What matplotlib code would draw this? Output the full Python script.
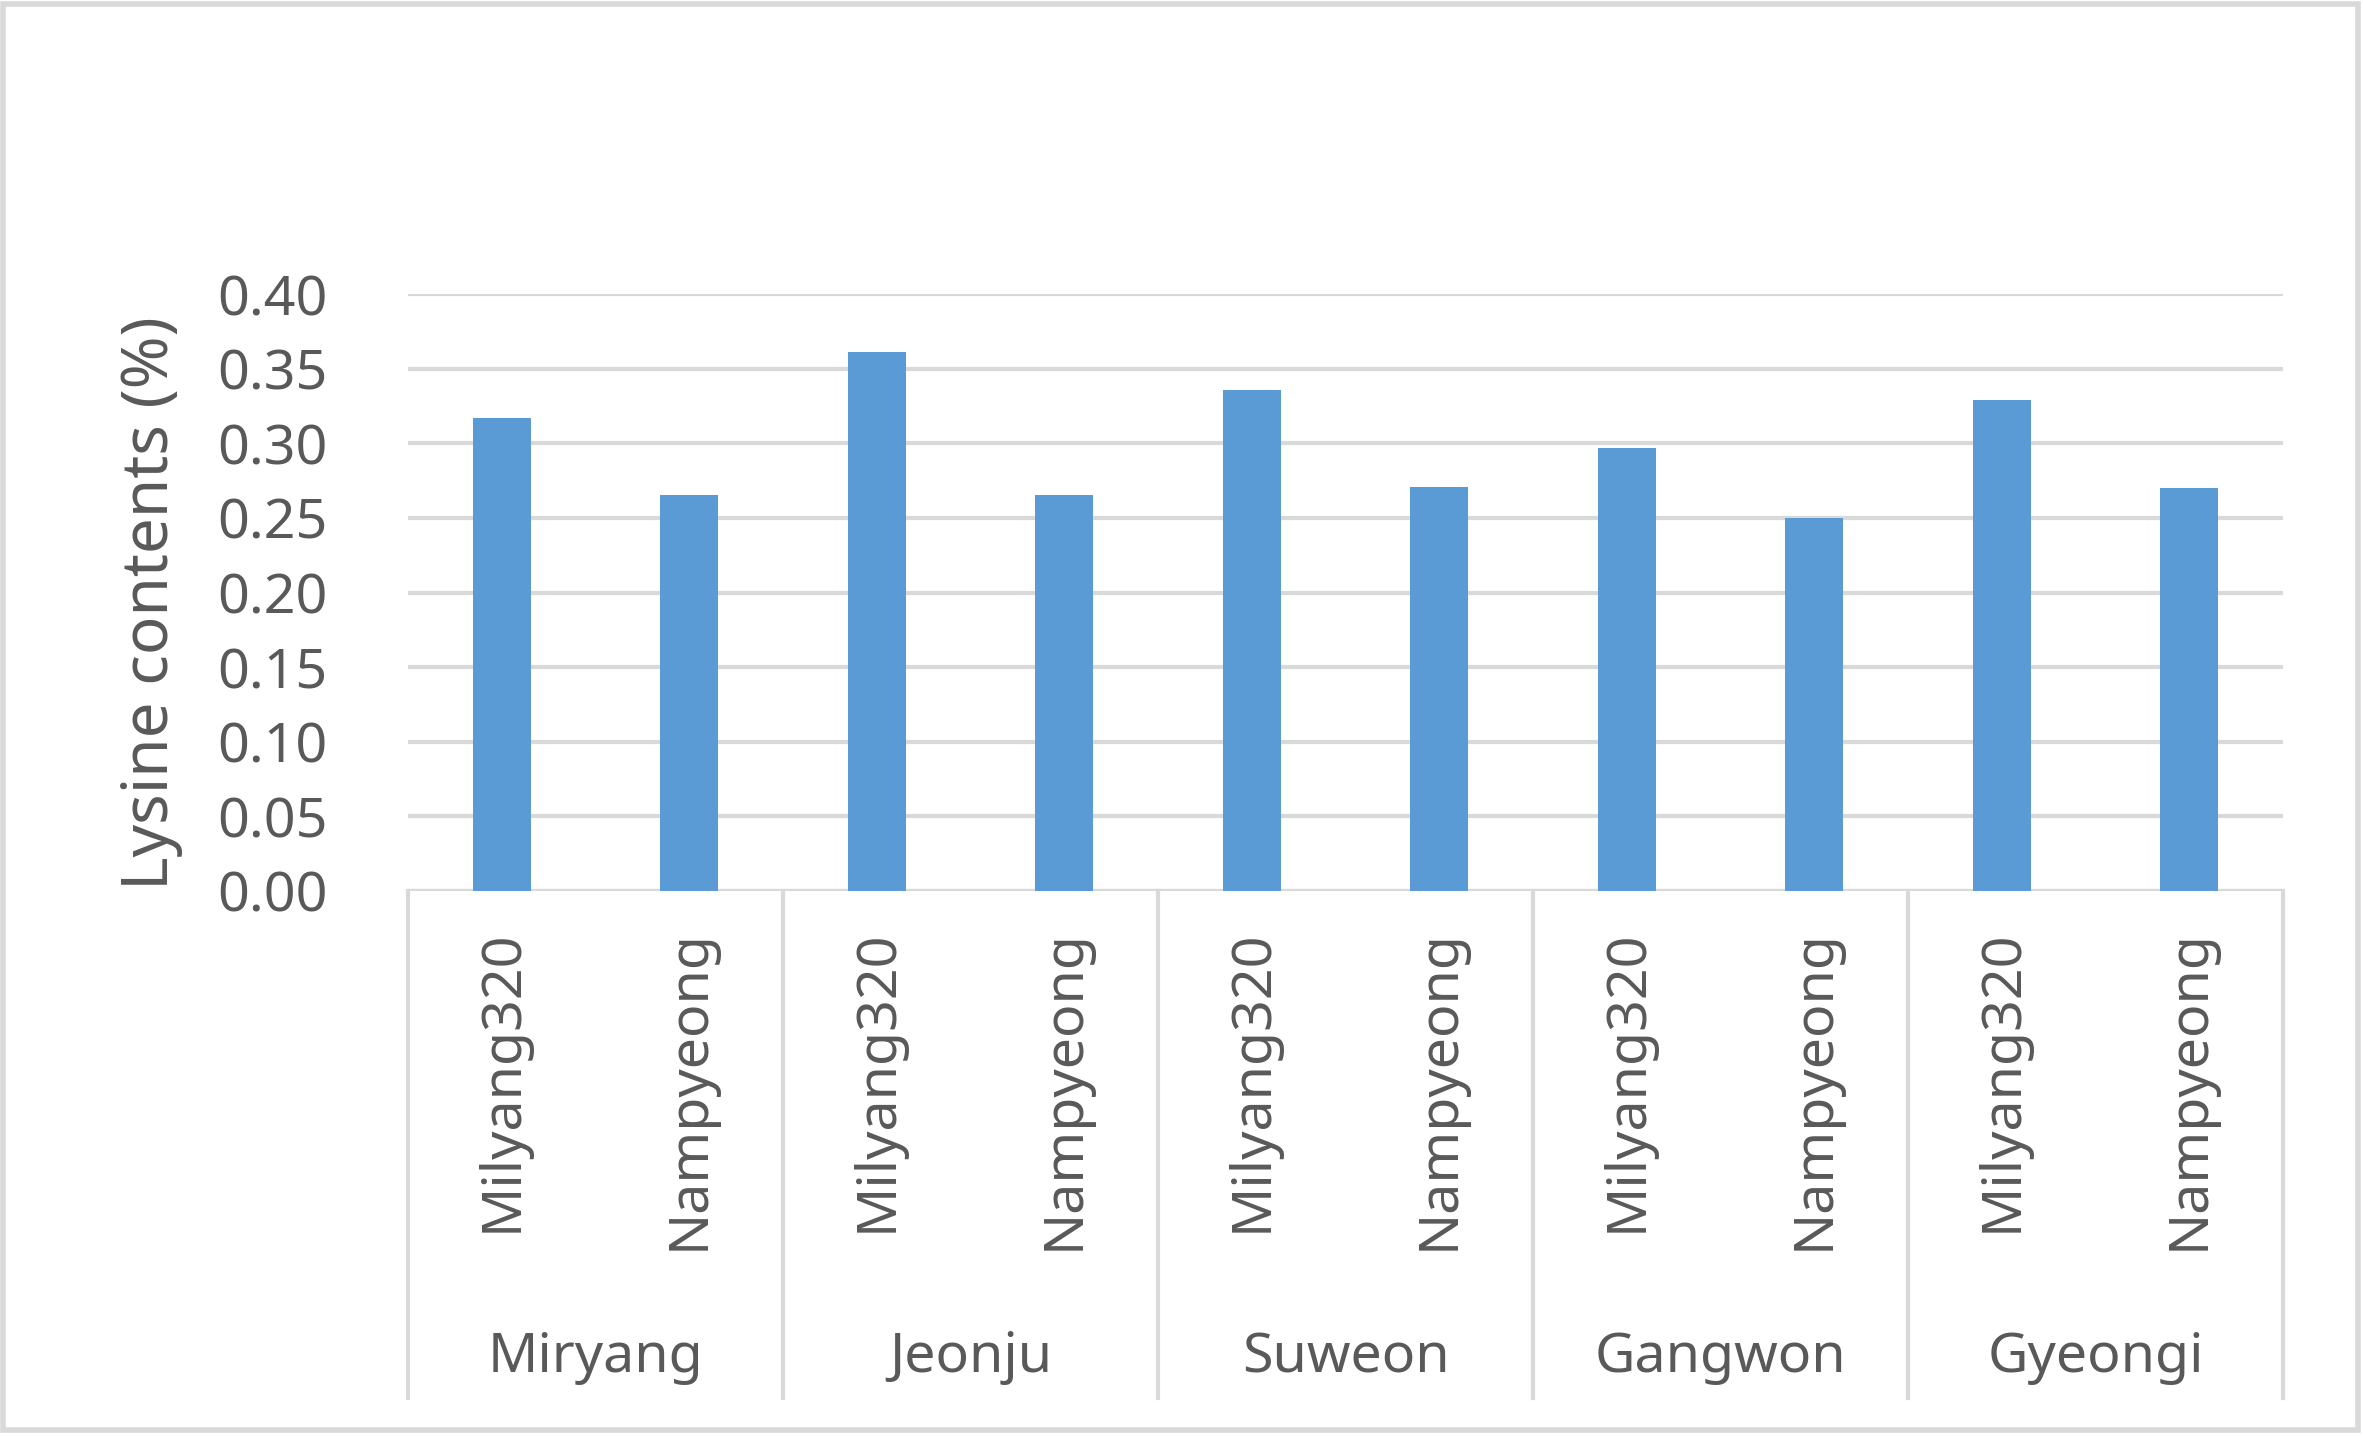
import matplotlib
matplotlib.use("Agg")
import matplotlib.pyplot as plt
from matplotlib.patches import Rectangle
from matplotlib.transforms import blended_transform_factory

plt.rcParams['font.family'] = ['Noto Sans', 'DejaVu Sans']

# data
sites = ["Miryang", "Jeonju", "Suweon", "Gangwon", "Gyeongi"]
varieties = ["Milyang320", "Nampyeong"]
lysine = [0.317, 0.265, 0.361, 0.265, 0.336, 0.271, 0.297, 0.250, 0.329, 0.270]
yticks = [0.00, 0.05, 0.10, 0.15, 0.20, 0.25, 0.30, 0.35, 0.40]

bar_color = "#5B9BD5"
grid_color = "#D9D9D9"
text_color = "#595959"
fs = 40

W, H = 2363, 1436
fig = plt.figure(figsize=(W / 100, H / 100), dpi=100)

# plot area in pixels: x 408..2283, y(0.40)=294, y(0.00)=891
x0, x1, ytop, ybot = 408, 2283, 294, 891
ax = fig.add_axes([x0 / W, 1 - ybot / H, (x1 - x0) / W, (ybot - ytop) / H])

n = len(lysine)
xs = [i + 0.5 for i in range(n)]
ax.bar(xs, lysine, width=0.31, color=bar_color, zorder=3)

ax.set_xlim(0, n)
ax.set_ylim(0, 0.40)
ax.set_yticks(yticks)
ax.set_yticklabels([f"{v:.2f}" for v in yticks], fontsize=fs, color=text_color)
ax.tick_params(axis="y", length=0, pad=58)
ax.set_xticks([])
for s in ax.spines.values():
    s.set_visible(False)
ax.yaxis.grid(True, color=grid_color, lw=3, zorder=0)
ax.set_axisbelow(True)
ax.axhline(0, color=grid_color, lw=3, zorder=2)

# category axis: separators and labels
tr = blended_transform_factory(ax.transData, ax.transAxes)
ph = ybot - ytop
sep_bottom = -(1398 - ybot) / ph
for k in range(len(sites) + 1):
    ax.plot([2 * k, 2 * k], [0, sep_bottom], color=grid_color, lw=3,
            transform=tr, clip_on=False)

lab_top = -(929 - ybot) / ph
for i, x in enumerate(xs):
    ax.text(x, lab_top, varieties[i % 2], rotation=90, ha="center", va="top",
            fontsize=fs, color=text_color, transform=tr)

grp_y = -(1358 - ybot) / ph
for k, name in enumerate(sites):
    ax.text(2 * k + 1, grp_y, name, ha="center", va="center",
            fontsize=fs, color=text_color, transform=tr)

fig.text(151 / W, 1 - 603 / H, "Lysine contents (%)", rotation=90,
         ha="center", va="center", fontsize=46, color=text_color)

# light frame round the chart
fig.patches.append(Rectangle((3 / W, 6 / H), (W - 8) / W, (H - 10) / H,
                             transform=fig.transFigure, fill=False,
                             edgecolor=grid_color, lw=4))

fig.savefig("out.png", dpi=100, facecolor="white")
